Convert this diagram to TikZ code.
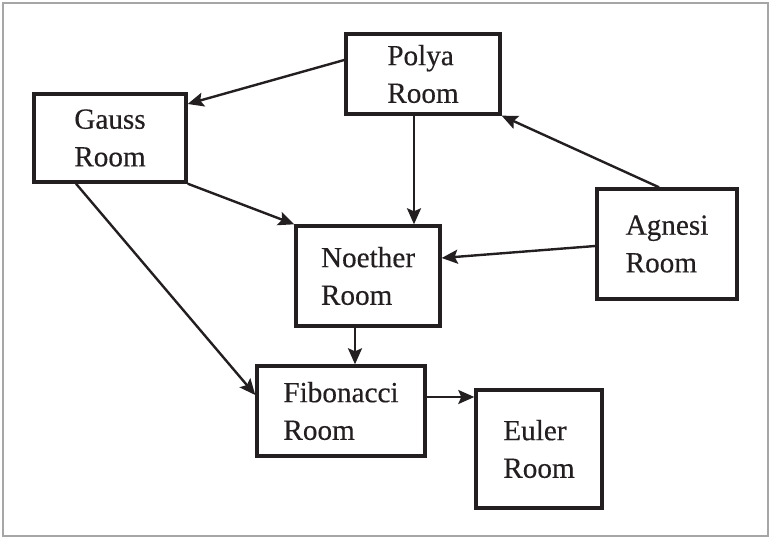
\documentclass[tikz,border=0pt]{standalone}
\usepackage{fontspec}
\setmainfont{Liberation Serif}[FakeBold=0.4]
\usetikzlibrary{arrows.meta}
\definecolor{ink}{HTML}{231F20}

\begin{document}
\begin{tikzpicture}[x=0.5pt, y=-0.5pt, >={Stealth[length=8pt,width=7pt,inset=1.5pt]},
    room/.style={draw=ink, line width=1.7pt, align=left, text=ink,
        font=\fontsize{14.6}{18.8}\selectfont, inner sep=0pt},
    link/.style={->, draw=ink, line width=1.2pt}]
    \useasboundingbox (0,0) rectangle (771,539);
    \draw[gray!70, line width=0.6pt] (3,3) rectangle (768,536);

    \node[room, minimum width=77pt, minimum height=40pt] (polya) at (423,74) {Polya\\Room};
    \node[room, minimum width=76pt, minimum height=44pt] (gauss) at (110,138) {Gauss\\Room};
    \node[room, minimum width=70pt, minimum height=55pt] (agnesi) at (667,244) {Agnesi\\Room};
    \node[room, minimum width=72pt, minimum height=50pt] (noether) at (368,276) {Noether\\Room};
    \node[room, minimum width=84pt, minimum height=45pt] (fibonacci) at (341,411) {Fibonacci\\Room};
    \node[room, minimum width=63pt, minimum height=59pt] (euler) at (539,449) {Euler\\Room};

    \draw[link] ([yshift=7pt]polya.west) -- ([yshift=17pt]gauss.east);
    \draw[link] ([xshift=-4.5pt]polya.south) -- ([xshift=23pt]noether.north);
    \draw[link] ([xshift=-4pt]agnesi.north) -- (polya.south east);
    \draw[link] (gauss.south east) -- (noether.north west);
    \draw[link] ([yshift=-1pt]agnesi.west) -- ([yshift=9pt]noether.east);
    \draw[link] ([xshift=-17pt]gauss.south) -- ([yshift=8pt]fibonacci.west);
    \draw[link] ([xshift=-6.5pt]noether.south) -- ([xshift=7pt]fibonacci.north);
    \draw[link] ([yshift=7pt]fibonacci.east) -- ([yshift=26pt]euler.west);
\end{tikzpicture}
\end{document}
